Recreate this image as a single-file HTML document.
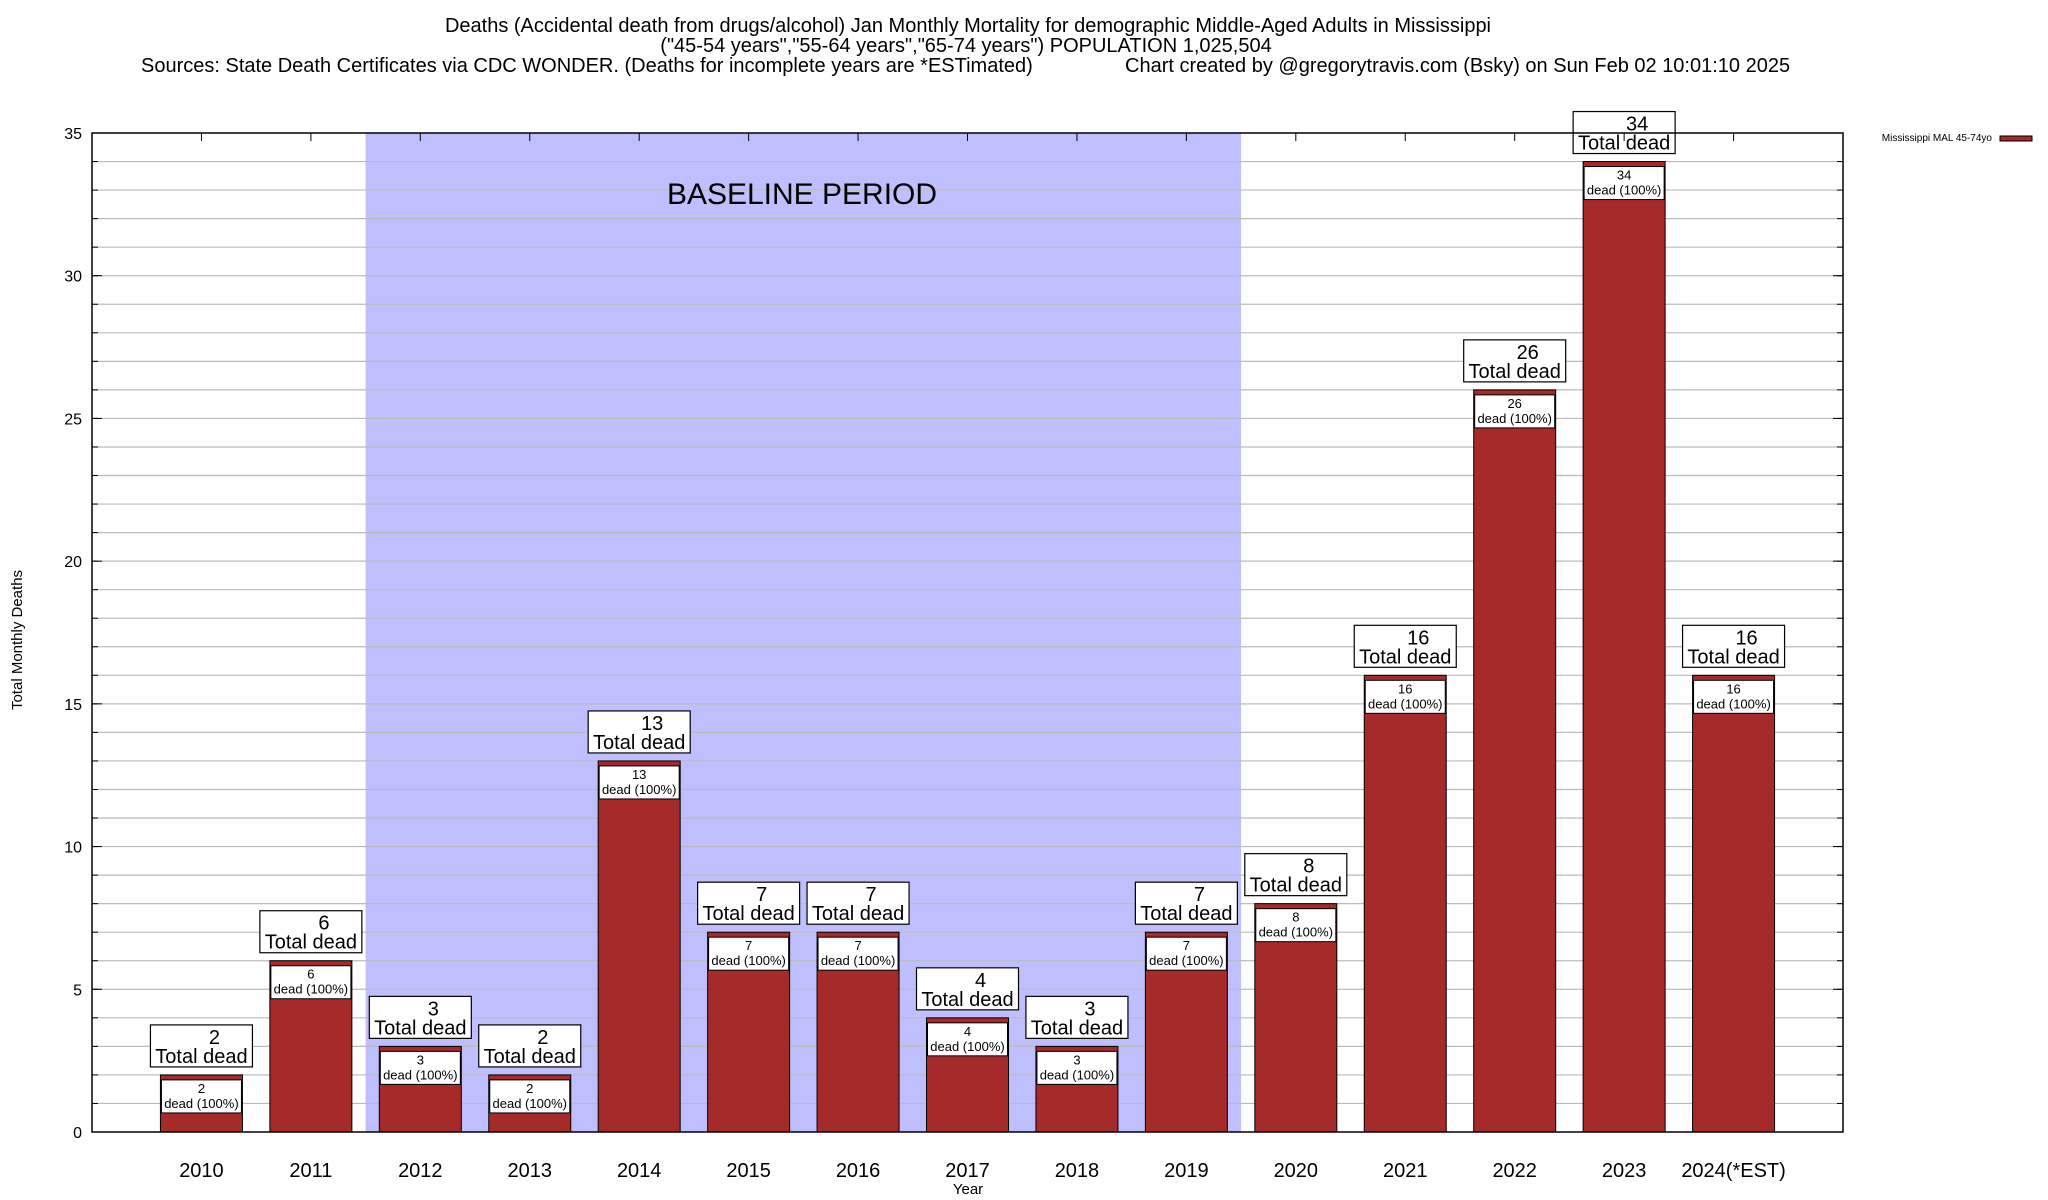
<!DOCTYPE html>
<html><head><meta charset="utf-8"><style>
html,body{margin:0;padding:0;background:#fff;}
svg{display:block;font-family:"Liberation Sans",sans-serif;}
</style></head><body>
<svg id="chart" width="2048" height="1200" viewBox="0 0 2048 1200" xmlns="http://www.w3.org/2000/svg">
<g font-size="20" fill="#000">
<text x="968" y="32" text-anchor="middle">Deaths (Accidental death from drugs/alcohol) Jan Monthly Mortality for demographic Middle-Aged Adults in Mississippi</text>
<text x="966" y="52" text-anchor="middle">("45-54 years","55-64 years","65-74 years") POPULATION 1,025,504</text>
<text x="141" y="72">Sources: State Death Certificates via CDC WONDER. (Deaths for incomplete years are *ESTimated)</text>
<text x="1125" y="72">Chart created by @gregorytravis.com (Bsky) on Sun Feb 02 10:01:10 2025</text>
</g>
<g id="plot"></g>
<text x="22" y="640" font-size="15" text-anchor="middle" transform="rotate(-90 22 640)">Total Monthly Deaths</text>
<text x="968" y="1194" font-size="15" text-anchor="middle">Year</text>
<g>
<text x="1992" y="141" font-size="10" text-anchor="end">Mississippi MAL 45-74yo</text>
<rect x="2000" y="136" width="32" height="5" fill="#a52a2a" stroke="#000" stroke-width="1"/>
</g>
</svg>
<script>
const categories = ["2010","2011","2012","2013","2014","2015","2016","2017","2018","2019","2020","2021","2022","2023","2024(*EST)"];
const values = [2,6,3,2,13,7,7,4,3,7,8,16,26,34,16];
const yTicks = [0,5,10,15,20,25,30,35];
const baselineRange = [1.5, 9.5];

const NS = "http://www.w3.org/2000/svg";
const L = 92, R = 1843, T = 133, B = 1132, yMax = 35;
const step = (R - L) / (categories.length + 1);
const xPos = i => L + step * (i + 1);
const yPos = v => B - (v / yMax) * (B - T);
const g = document.getElementById('plot');
function mk(tag, attrs, parent) {
  const e = document.createElementNS(NS, tag);
  for (const k in attrs) e.setAttribute(k, attrs[k]);
  (parent || g).appendChild(e);
  return e;
}
const bx0 = xPos(baselineRange[0]), bx1 = xPos(baselineRange[1]);
const shade = mk('rect', {x: bx0, y: T, width: bx1 - bx0, height: B - T, fill: '#bfbfff'});


for (let v = 1; v < yMax; v++) {
  const gl = mk('line', {x1: L, x2: R, y1: yPos(v), y2: yPos(v), stroke: '#bbbbbb', 'stroke-width': 1.2});
  
  
  mk('line', {x1: L, x2: L + 6, y1: yPos(v), y2: yPos(v), stroke: '#000', 'stroke-width': 1});
  mk('line', {x1: R - 6, x2: R, y1: yPos(v), y2: yPos(v), stroke: '#000', 'stroke-width': 1});
}
const bt = mk('text', {x: 802, y: 204, 'font-size': 30, 'text-anchor': 'middle'});
bt.textContent = 'BASELINE PERIOD';


yTicks.forEach(v => {
  const t = mk('text', {x: 82, y: yPos(v) + 6, 'font-size': 16, 'text-anchor': 'end'});
  t.textContent = v;
  
  
  mk('line', {x1: L, x2: L + 10, y1: yPos(v), y2: yPos(v), stroke: '#000', 'stroke-width': 1});
  mk('line', {x1: R - 10, x2: R, y1: yPos(v), y2: yPos(v), stroke: '#000', 'stroke-width': 1});
});
const bw = 82;
categories.forEach((c, i) => {
  const v = values[i], cx = xPos(i), yt = yPos(v);
  const bar = mk('rect', {x: cx - bw/2, y: yt, width: bw, height: B - yt, fill: '#a52a2a', stroke: '#000', 'stroke-width': 1});
  
  
  const ib = mk('rect', {x: cx - bw/2 + 1, y: yt + 5, width: bw - 2, height: 33, fill: '#fff', stroke: '#000', 'stroke-width': 1});
  
  
  const t1 = mk('text', {x: cx, y: yt + 18, 'font-size': 13, 'text-anchor': 'middle'});
  t1.textContent = v;
  
  
  const t2 = mk('text', {x: cx, y: yt + 33, 'font-size': 13, 'text-anchor': 'middle'});
  t2.textContent = 'dead (100%)';
  
  
  const ob = mk('rect', {x: cx - 51, y: yt - 50, width: 102, height: 42, fill: '#fff', stroke: '#000', 'stroke-width': 1.2});
  
  
  const t3 = mk('text', {x: cx + 13, y: yt - 31, 'font-size': 20, 'text-anchor': 'middle'});
  t3.textContent = v;
  
  
  const t4 = mk('text', {x: cx, y: yt - 12, 'font-size': 20, 'text-anchor': 'middle'});
  t4.textContent = 'Total dead';
  
  
  const xl = mk('text', {x: cx, y: 1177, 'font-size': 20, 'text-anchor': 'middle'});
  xl.textContent = c;
  
  
  mk('line', {x1: cx, x2: cx, y1: T, y2: T + 8, stroke: '#000', 'stroke-width': 1});
});
const fr = mk('rect', {x: L, y: T, width: R - L, height: B - T, fill: 'none', stroke: '#000', 'stroke-width': 1.5});


</script>
</body></html>
